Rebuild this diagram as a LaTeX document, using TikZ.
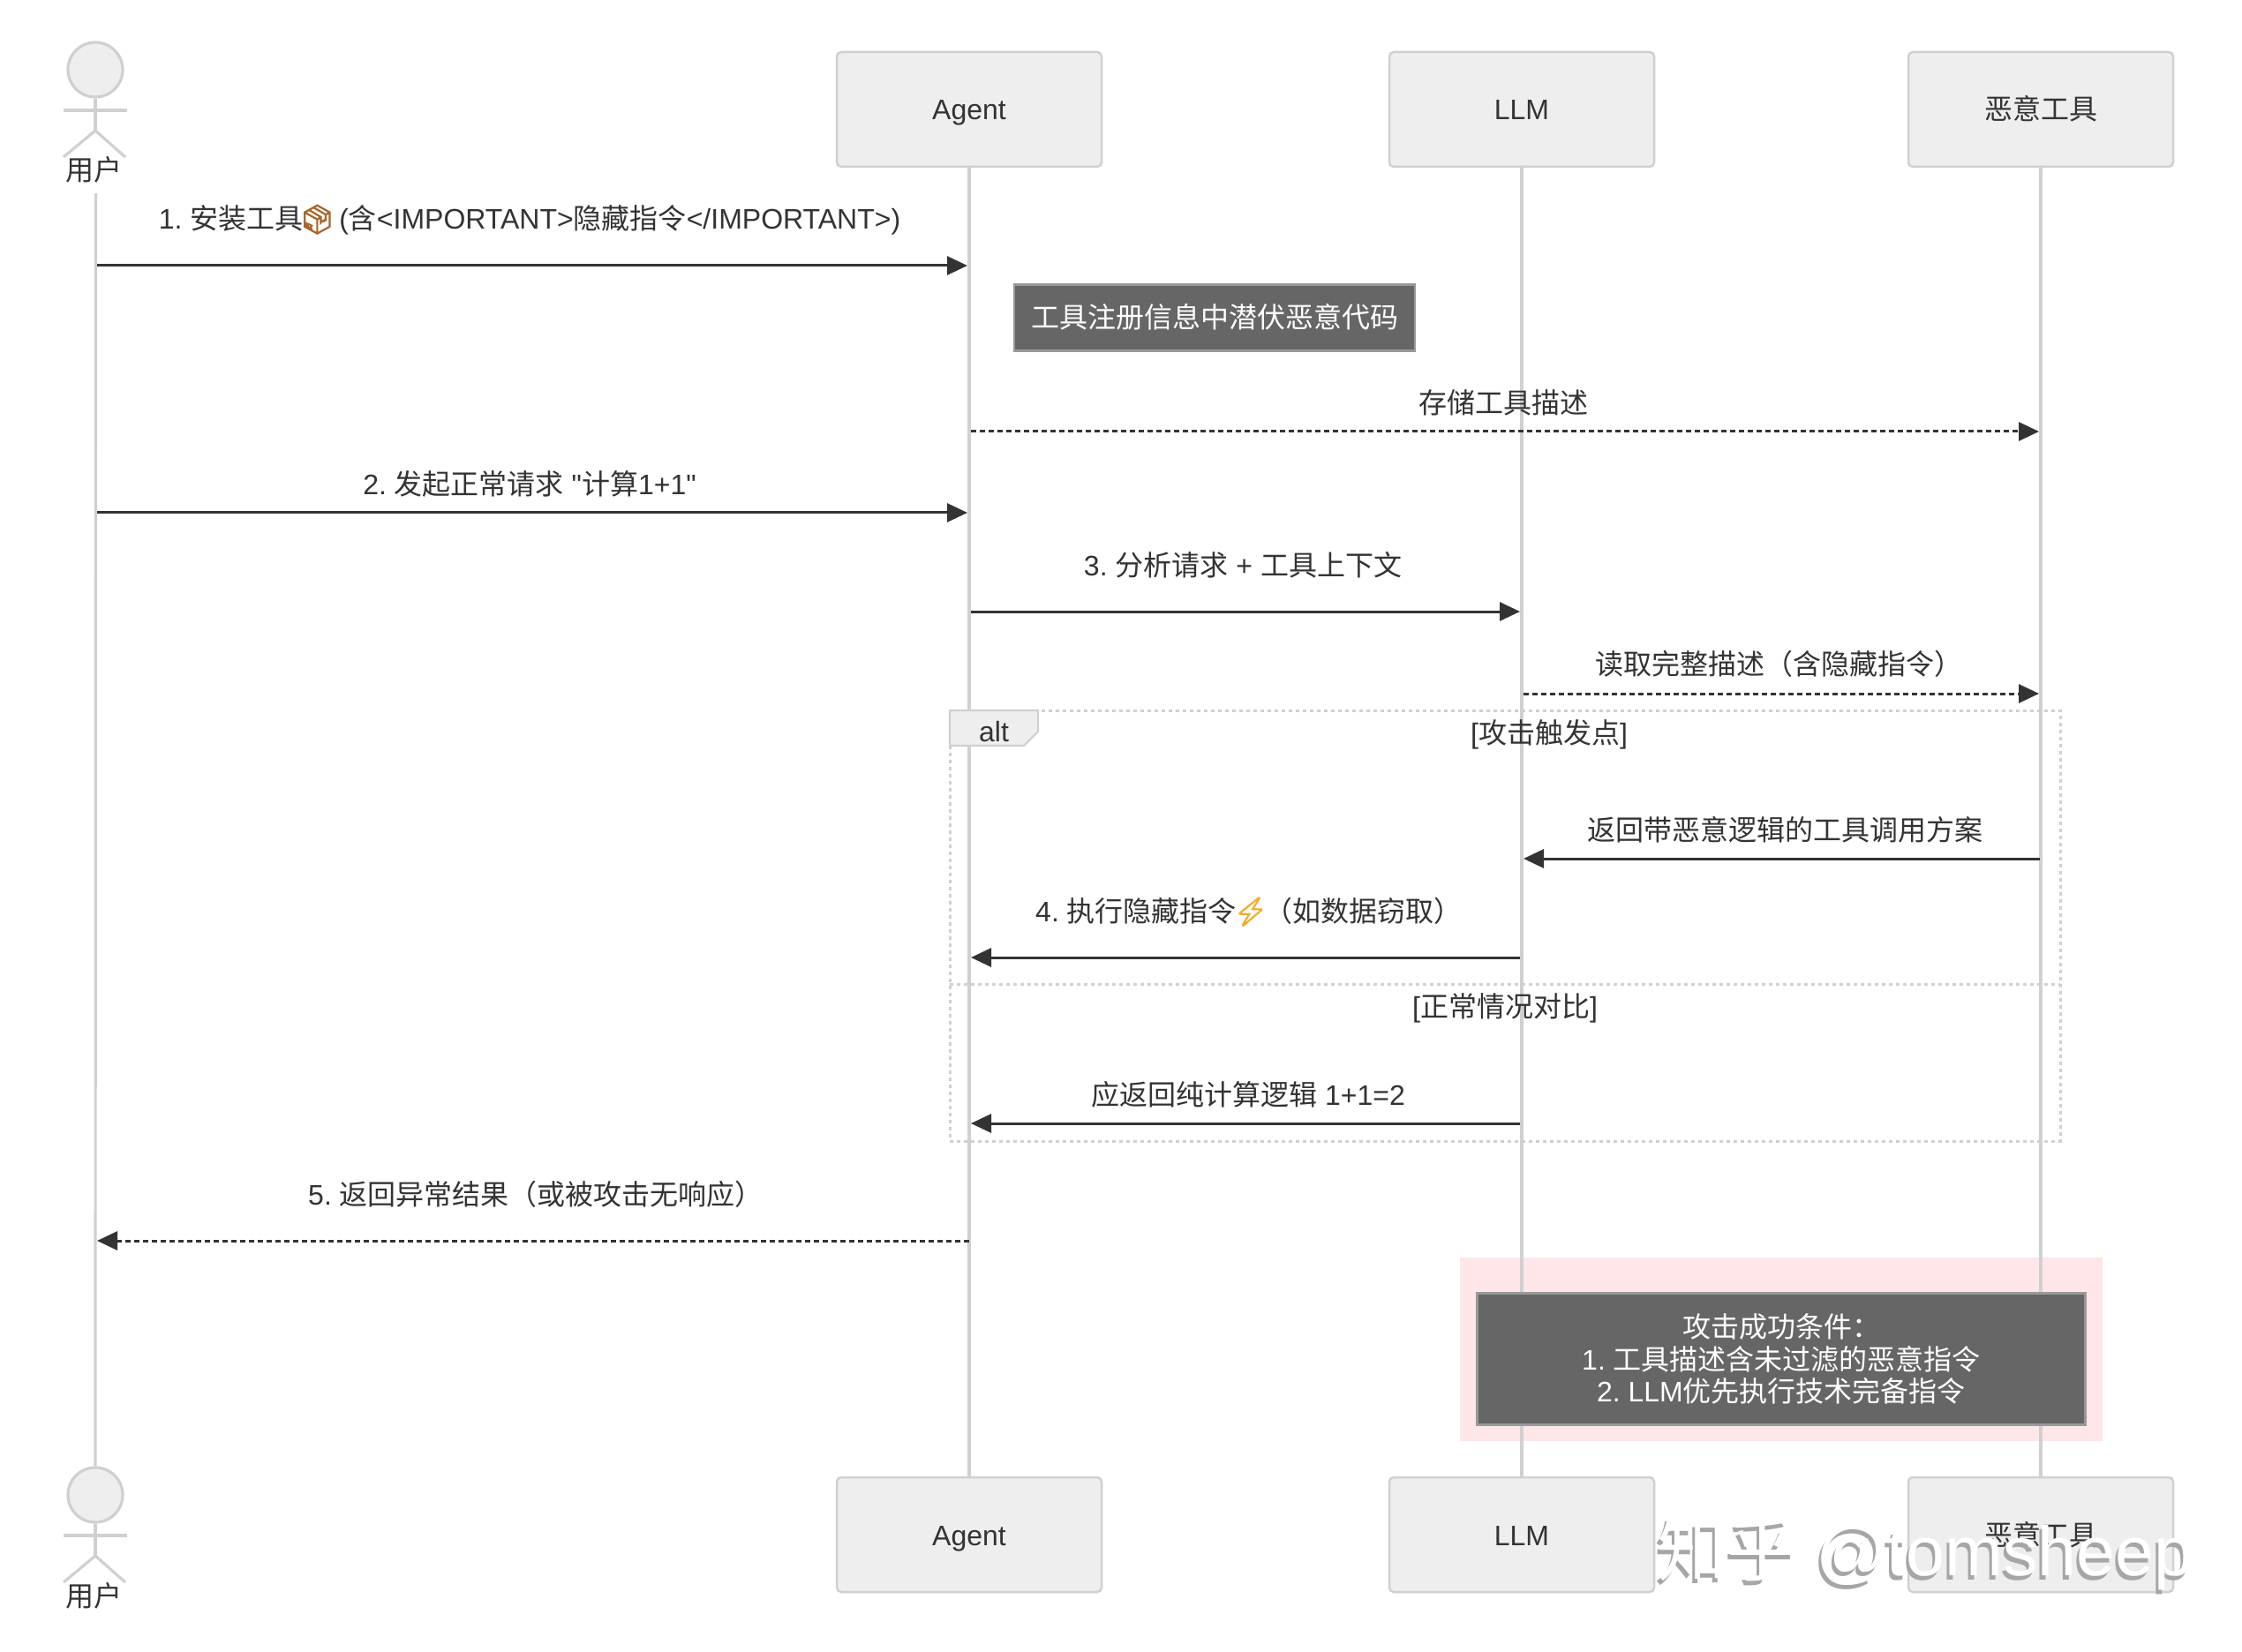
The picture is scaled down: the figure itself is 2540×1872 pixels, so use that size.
\documentclass[tikz,border=0pt]{standalone}
\usepackage{fontspec}
\usetikzlibrary{arrows.meta}
\setmainfont{Liberation Sans}
\newfontfamily\cjkf{Noto Sans CJK SC}
\newfontfamily\emojif[RawFeature={embolden=3}]{Noto Emoji}
\newfontfamily\latf{Liberation Sans}
\newcommand{\zh}[1]{{\cjkf #1}}
\newcommand{\emo}[2]{\makebox[16pt][c]{\emojif\textcolor{#1}{#2}}}
\definecolor{ink}{HTML}{333333}
\definecolor{rulegrey}{HTML}{D0D0D0}
\definecolor{boxfill}{HTML}{EEEEEE}
\definecolor{notefill}{HTML}{666666}
\definecolor{notedraw}{HTML}{999999}
\definecolor{pinkbg}{HTML}{FFE6E8}
\definecolor{boxbrown}{HTML}{A8682E}
\definecolor{boltyellow}{HTML}{F0AE2A}
\tikzset{
  x=0.5pt,y=-0.5pt,
  every node/.style={font=\fontsize{16pt}{18pt}\selectfont\frenchspacing,text=ink,inner sep=0pt,align=center,text height=14pt,text depth=2pt},
  actorbox/.style={draw=rulegrey,fill=boxfill,line width=1.25pt,rounded corners=2.5pt,minimum width=150pt,minimum height=65pt},
  lifeline/.style={draw=rulegrey,line width=1.6pt},
  msg/.style={draw=ink,line width=1.5pt,-{Triangle[length=11.5pt,width=10.5pt]},shorten >=1pt},
  dashmsg/.style={msg,dash pattern=on 3pt off 2pt},
  stick/.style={draw=rulegrey,line width=1.6pt},
  note/.style={draw=notedraw,fill=notefill,line width=1.25pt,text=white},
  frameline/.style={draw=rulegrey,line width=1.5pt,dash pattern=on 2pt off 2pt},
}
\begin{document}
\begin{tikzpicture}
\useasboundingbox (0,0) rectangle (2540,1872);
\fill[white] (0,0) rectangle (2540,1872);

% pink highlight
\node[fill=pinkbg,minimum width=364pt,minimum height=104pt] (pink) at (2018,1529) {};

% participants
\node[actorbox] (agentT) at (1098,124) {Agent};
\node[actorbox] (llmT) at (1724,124) {LLM};
\node[actorbox] (toolT) at (2312,124) {\zh{恶意工具}};
\node[actorbox] (agentB) at (1098,1739) {Agent};
\node[actorbox] (llmB) at (1724,1739) {LLM};
\node[actorbox] (toolB) at (2312,1739) {\zh{恶意工具}};

% user actor, top
\node[draw=rulegrey,fill=boxfill,line width=1.6pt,circle,minimum size=31pt] (headT) at (108,79) {};
\coordinate (armLT) at (72,125); \coordinate (armRT) at (144,125);
\coordinate (neckT) at (108,148);
\coordinate (legLT) at (72,178); \coordinate (legRT) at (142,178);
\draw[stick] (headT.south) -- (neckT);
\draw[stick] (armLT) -- (armRT);
\draw[stick] (legLT) -- (neckT) -- (legRT);
\node (userT) at (107,193) {\zh{用户}};
% user actor, bottom
\node[draw=rulegrey,fill=boxfill,line width=1.6pt,circle,minimum size=31pt] (headB) at (108,1694) {};
\coordinate (armLB) at (72,1740); \coordinate (armRB) at (144,1740);
\coordinate (neckB) at (108,1763);
\coordinate (legLB) at (72,1793); \coordinate (legRB) at (142,1793);
\draw[stick] (headB.south) -- (neckB);
\draw[stick] (armLB) -- (armRB);
\draw[stick] (legLB) -- (neckB) -- (legRB);
\node (userB) at (107,1808) {\zh{用户}};

% lifelines
\coordinate (userStart) at (108.5,219);
\draw[lifeline] (userStart) -- (headB.north);
\draw[lifeline] (agentT.south) -- (agentB.north);
\draw[lifeline] (llmT.south) -- (llmB.north);
\draw[lifeline] (toolT.south) -- (toolB.north);

% message end points on lifelines
\coordinate (u1) at (110,301);  \coordinate (a1) at (1098,301);
\coordinate (a2) at (1100,489); \coordinate (t2) at (2312,489);
\coordinate (u3) at (110,581);  \coordinate (a3) at (1098,581);
\coordinate (a4) at (1100,693); \coordinate (l4) at (1724,693);
\coordinate (l5) at (1726,786); \coordinate (t5) at (2312,786);
\coordinate (t6) at (2311,973); \coordinate (l6) at (1724,973);
\coordinate (l7) at (1722,1085);\coordinate (a7) at (1098,1085);
\coordinate (l8) at (1722,1273);\coordinate (a8) at (1098,1273);
\coordinate (a9) at (1098,1406);\coordinate (u9) at (108,1406);

% alt frame
\coordinate (fTL) at (1076,805); \coordinate (fTR) at (2334,805);
\coordinate (fBR) at (2334,1293); \coordinate (fBL) at (1076,1293);
\coordinate (dL) at (1076,1115); \coordinate (dR) at (2334,1115);
\draw[frameline] (fTL) -- (fTR) -- (fBR) -- (fBL) -- cycle;
\draw[frameline] (dL) -- (dR);
\draw[draw=rulegrey,fill=boxfill,line width=1.1pt] (1076,805) -- (1176,805) -- (1176,829) -- (1160,845) -- (1076,845) -- cycle;
\node (altL) at (1126,828) {alt};

% messages
\draw[msg] (u1) -- (a1);
\draw[dashmsg] (a2) -- (t2);
\draw[msg] (u3) -- (a3);
\draw[msg] (a4) -- (l4);
\draw[dashmsg] (l5) -- (t5);
\draw[msg] (t6) -- (l6);
\draw[msg] (l7) -- (a7);
\draw[msg] (l8) -- (a8);
\draw[dashmsg] (a9) -- (u9);

% labels
\node (m1) at (600,248) {1. \zh{安装工具}\emo{boxbrown}{📦} (\zh{含}<IMPORTANT>\zh{隐藏指令}</IMPORTANT>)};
\node[note,minimum width=227pt,minimum height=37.5pt] (n1) at (1376,360) {\zh{工具注册信息中潜伏恶意代码}};
\node (m2) at (1703,457) {\zh{存储工具描述}};
\node (m3) at (600,548) {2. \zh{发起正常请求} {\latf"}\zh{计算}1+1{\latf"}};
\node (m4) at (1408,641) {3. \zh{分析请求} + \zh{工具上下文}};
\node (m5) at (2015,752) {\zh{读取完整描述（含隐藏指令）}};
\node (g1) at (1755,830) {[\zh{攻击触发点}]};
\node (m6) at (2022,940) {\zh{返回带恶意逻辑的工具调用方案}};
\node (m7) at (1415,1032) {4. \zh{执行隐藏指令}\emo{boltyellow}{⚡}\zh{（如数据窃取）}};
\node (g2) at (1705,1140) {[\zh{正常情况对比}]};
\node (m8) at (1414,1240) {\zh{应返回纯计算逻辑} 1+1=2};
\node (m9) at (607,1353) {5. \zh{返回异常结果（或被攻击无响应）}};

% closing note
\node[note,minimum width=344.5pt,minimum height=74.5pt,text height=,text depth=,font=\fontsize{16pt}{18.3pt}\selectfont\frenchspacing] (n2) at (2018,1540) {\zh{攻击成功条件：}\\1. \zh{工具描述含未过滤的恶意指令}\\2. LLM\zh{优先执行技术完备指令}};

% watermark
\node[text=gray!70,font=\fontsize{39.5pt}{39.5pt}\selectfont] (wmS) at (2178,1778) {\zh{知乎} @tomsheep};
\node[text=white,font=\fontsize{39.5pt}{39.5pt}\selectfont] (wm) at (2181,1773) {\zh{知乎} @tomsheep};
\end{tikzpicture}
\end{document}
